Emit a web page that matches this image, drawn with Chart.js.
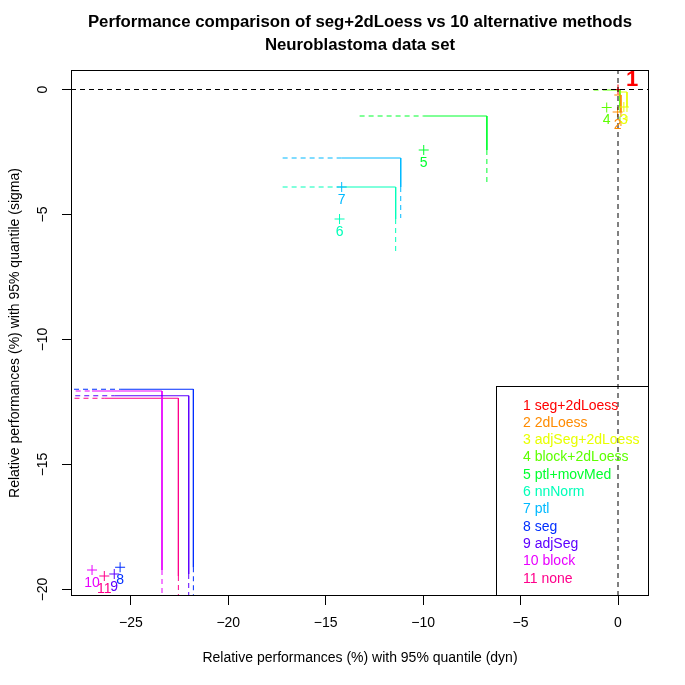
<!DOCTYPE html>
<html><head><meta charset="utf-8">
<script src="https://cdn.jsdelivr.net/npm/chart.js@4.4.1/dist/chart.umd.min.js"></script>
<style>html,body{margin:0;padding:0;background:#fff;}#wrap{width:685px;height:685px;}</style>
</head><body><div id="wrap"><canvas id="c" width="685" height="685"></canvas></div>
<script>
// ---- data ----
const methods = ['seg+2dLoess','2dLoess','adjSeg+2dLoess','block+2dLoess','ptl+movMed','nnNorm','ptl','seg','adjSeg','block','none'];
const colors = ['#FF0000','#FF8B00','#E8FF00','#5DFF00','#00FF2E','#00FFB9','#00B9FF','#002EFF','#5D00FF','#E800FF','#FF008B'];
const dynValues   = [0, -0.02, 0.30, -0.58, -9.97, -14.29, -14.18, -25.55, -25.85, -26.99, -26.36];
const sigmaValues = [0, -0.90, -0.70, -0.72, -2.42, -5.18, -3.90, -19.11, -19.38, -19.22, -19.46];
const dynUpper    = [0, 0.15, 0.46, 0.10, -6.73, -11.41, -11.15, -21.79, -22.03, -23.40, -22.56];
const sigmaUpper  = [0, -0.22, -0.10, -0.02, -1.06, -3.90, -2.74, -11.99, -12.25, -12.06, -12.35];
const dynLower    = [0, -0.19, 0.14, -1.25, -13.26, -17.21, -17.21, -29.3, -29.7, -30.6, -30.2];
const sigmaLower  = [0, -1.58, -1.30, -1.42, -3.74, -6.50, -5.14, -26.2, -26.5, -26.4, -26.6];
const xTicks = [-25, -20, -15, -10, -5, 0];
const yTicks = [-20, -15, -10, -5, 0];
const xRange = [-28.07, 1.59];
const yRange = [-20.26, 0.78];
const mainTitle = ['Performance comparison of seg+2dLoess vs 10 alternative methods', 'Neuroblastoma data set'];
const xTitle = 'Relative performances (%) with 95% quantile (dyn)';
const yTitle = 'Relative performances (%) with 95% quantile (sigma)';

const FONT = "'Liberation Sans', Arial, Helvetica, sans-serif";
const FS = 14;
const DASH = [5, 4];

const datasets = [];
// reference lines (x = 0, y = 0)
datasets.push({type:'line', data:[{x:xRange[0], y:0},{x:xRange[1], y:0}], borderColor:'#000', borderWidth:1, borderDash:DASH, pointRadius:0, showLine:true, fill:false});
datasets.push({type:'line', data:[{x:0, y:yRange[0]},{x:0, y:yRange[1]}], borderColor:'#000', borderWidth:1, borderDash:DASH, pointRadius:0, showLine:true, fill:false});
// points
datasets.push({type:'scatter', data: dynValues.map((v,i)=>({x:v, y:sigmaValues[i]})),
  pointStyle:'cross', pointRadius:5, pointHoverRadius:5, pointBorderWidth:1,
  pointBorderColor: colors, borderColor: colors, backgroundColor: colors, showLine:false});
// interval corners
for (let i = 1; i < methods.length; i++) {
  datasets.push({type:'line', showLine:true, pointRadius:0, fill:false, borderWidth:1, borderColor:colors[i], spanGaps:false,
    data:[{x:dynValues[i], y:sigmaUpper[i]},{x:dynUpper[i], y:sigmaUpper[i]},{x:dynUpper[i], y:sigmaValues[i]}]});
  datasets.push({type:'line', showLine:true, pointRadius:0, fill:false, borderWidth:1, borderColor:colors[i], spanGaps:false, borderDash:DASH,
    data:[{x:dynLower[i], y:sigmaUpper[i]},{x:dynValues[i], y:sigmaUpper[i]},{x:dynUpper[i], y:null},{x:dynUpper[i], y:sigmaValues[i]},{x:dynUpper[i], y:sigmaLower[i]}]});
}

const deco = {
  id:'deco',
  beforeDraw(chart){
    const c = chart.ctx; c.save(); c.fillStyle='#fff'; c.fillRect(0,0,chart.width,chart.height); c.restore();
  },
  afterDraw(chart){
    const c = chart.ctx, a = chart.chartArea, xs = chart.scales.x, ys = chart.scales.y;
    c.save();
    // frame
    c.strokeStyle='#000'; c.lineWidth=1; c.setLineDash([]);
    c.strokeRect(Math.round(a.left)+0.5, Math.round(a.top)+0.5, Math.round(a.right-a.left)-1, Math.round(a.bottom-a.top)-1);
    // y tick labels (rotated, like R)
    c.fillStyle='#000'; c.font = FS+'px '+FONT; c.textAlign='center'; c.textBaseline='middle';
    yTicks.forEach(v=>{
      const py = ys.getPixelForValue(v);
      c.save(); c.translate(43, py); c.rotate(-Math.PI/2); c.fillText(String(v).replace('-','\u2212'), 0, 0); c.restore();
    });
    // y title
    c.save(); c.translate(15, (a.top+a.bottom)/2); c.rotate(-Math.PI/2); c.fillText(yTitle, 0, 0); c.restore();
    // main title
    c.font = 'bold 16.8px '+FONT;
    const cx = (a.left+a.right)/2;
    c.fillText(mainTitle[0], cx, 22.5);
    c.fillText(mainTitle[1], cx, 45.5);
    // point labels
    for (let i = 0; i < methods.length; i++) {
      const px = xs.getPixelForValue(dynValues[i]), py = ys.getPixelForValue(sigmaValues[i]);
      c.fillStyle = colors[i];
      if (i === 0) { c.font = 'bold 22px '+FONT; c.fillText('1', px+14, py-10); }
      else { c.font = FS+'px '+FONT; c.fillText(String(i+1), px, py+13); }
    }
    // legend
    const lx = 496, ly = 386;
    c.strokeStyle='#000'; c.lineWidth=1;
    c.strokeRect(lx+0.5, ly+0.5, Math.round(a.right)-lx-1, Math.round(a.bottom)-ly-1);
    c.font = FS+'px '+FONT; c.textAlign='left';
    methods.forEach((m,i)=>{ c.fillStyle = colors[i]; c.fillText((i+1)+' '+m, 523, 405.7 + i*17.3); });
    c.restore();
  }
};

new Chart(document.getElementById('c'), {
  type:'scatter',
  data:{datasets},
  options:{
    responsive:false, animation:false, devicePixelRatio:1,
    layout:{padding:{top:70, right:36, left:0, bottom:0}},
    plugins:{legend:{display:false}, title:{display:false}, tooltip:{enabled:false}},
    events:[],
    scales:{
      x:{type:'linear', position:'bottom', min:xRange[0], max:xRange[1],
        afterFit(s){ s.height = 89; },
        afterBuildTicks(s){ s.ticks = xTicks.map(v=>({value:v})); },
        grid:{drawOnChartArea:false, drawTicks:true, tickLength:9, color:'#000', tickColor:'#000', lineWidth:1},
        border:{display:false},
        ticks:{color:'#000', font:{family:FONT, size:FS}, padding:10, maxRotation:0, autoSkip:false,
          callback:(v)=>String(v).replace('-','\u2212')},
        title:{display:true, text:xTitle, color:'#000', font:{family:FONT, size:FS}, padding:{top:0, bottom:18}}
      },
      y:{type:'linear', position:'left', min:yRange[0], max:yRange[1],
        afterFit(s){ s.width = 71; },
        afterBuildTicks(s){ s.ticks = yTicks.map(v=>({value:v})); },
        grid:{drawOnChartArea:false, drawTicks:true, tickLength:9, color:'#000', tickColor:'#000', lineWidth:1},
        border:{display:false},
        ticks:{display:false}
      }
    }
  },
  plugins:[deco]
});
</script></body></html>
